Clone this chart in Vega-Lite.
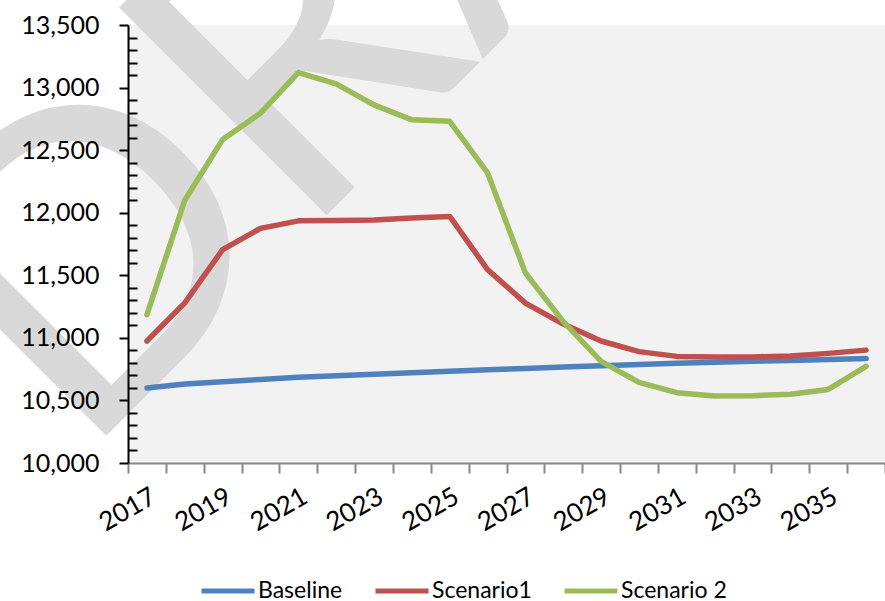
{
  "$schema": "https://vega.github.io/schema/vega-lite/v6.json",
  "width": 757,
  "height": 438,
  "autosize": {"type": "none"},
  "padding": {"left": 128, "top": 25, "right": 0, "bottom": 138},
  "background": "white",
  "config": {"view": {"fill": "#f2f2f2", "stroke": null}, "font": "Lato"},
  "data": {"values": [
    {"year": 2017, "series": "Baseline", "value": 10600}, {"year": 2018, "series": "Baseline", "value": 10632},
    {"year": 2019, "series": "Baseline", "value": 10650}, {"year": 2020, "series": "Baseline", "value": 10668},
    {"year": 2021, "series": "Baseline", "value": 10685}, {"year": 2022, "series": "Baseline", "value": 10698},
    {"year": 2023, "series": "Baseline", "value": 10710}, {"year": 2024, "series": "Baseline", "value": 10722},
    {"year": 2025, "series": "Baseline", "value": 10733}, {"year": 2026, "series": "Baseline", "value": 10745},
    {"year": 2027, "series": "Baseline", "value": 10756}, {"year": 2028, "series": "Baseline", "value": 10767},
    {"year": 2029, "series": "Baseline", "value": 10778}, {"year": 2030, "series": "Baseline", "value": 10788},
    {"year": 2031, "series": "Baseline", "value": 10797}, {"year": 2032, "series": "Baseline", "value": 10805},
    {"year": 2033, "series": "Baseline", "value": 10813}, {"year": 2034, "series": "Baseline", "value": 10820},
    {"year": 2035, "series": "Baseline", "value": 10828}, {"year": 2036, "series": "Baseline", "value": 10836},
    {"year": 2017, "series": "Scenario1", "value": 10975}, {"year": 2018, "series": "Scenario1", "value": 11280},
    {"year": 2019, "series": "Scenario1", "value": 11705}, {"year": 2020, "series": "Scenario1", "value": 11875},
    {"year": 2021, "series": "Scenario1", "value": 11935}, {"year": 2022, "series": "Scenario1", "value": 11938},
    {"year": 2023, "series": "Scenario1", "value": 11942}, {"year": 2024, "series": "Scenario1", "value": 11958},
    {"year": 2025, "series": "Scenario1", "value": 11970}, {"year": 2026, "series": "Scenario1", "value": 11545},
    {"year": 2027, "series": "Scenario1", "value": 11278}, {"year": 2028, "series": "Scenario1", "value": 11110},
    {"year": 2029, "series": "Scenario1", "value": 10975}, {"year": 2030, "series": "Scenario1", "value": 10890},
    {"year": 2031, "series": "Scenario1", "value": 10852}, {"year": 2032, "series": "Scenario1", "value": 10848},
    {"year": 2033, "series": "Scenario1", "value": 10848}, {"year": 2034, "series": "Scenario1", "value": 10855},
    {"year": 2035, "series": "Scenario1", "value": 10876}, {"year": 2036, "series": "Scenario1", "value": 10902},
    {"year": 2017, "series": "Scenario 2", "value": 11185}, {"year": 2018, "series": "Scenario 2", "value": 12100},
    {"year": 2019, "series": "Scenario 2", "value": 12585}, {"year": 2020, "series": "Scenario 2", "value": 12795},
    {"year": 2021, "series": "Scenario 2", "value": 13120}, {"year": 2022, "series": "Scenario 2", "value": 13030},
    {"year": 2023, "series": "Scenario 2", "value": 12862}, {"year": 2024, "series": "Scenario 2", "value": 12742},
    {"year": 2025, "series": "Scenario 2", "value": 12730}, {"year": 2026, "series": "Scenario 2", "value": 12318},
    {"year": 2027, "series": "Scenario 2", "value": 11518}, {"year": 2028, "series": "Scenario 2", "value": 11130},
    {"year": 2029, "series": "Scenario 2", "value": 10812}, {"year": 2030, "series": "Scenario 2", "value": 10645},
    {"year": 2031, "series": "Scenario 2", "value": 10562}, {"year": 2032, "series": "Scenario 2", "value": 10536},
    {"year": 2033, "series": "Scenario 2", "value": 10538}, {"year": 2034, "series": "Scenario 2", "value": 10550},
    {"year": 2035, "series": "Scenario 2", "value": 10588}, {"year": 2036, "series": "Scenario 2", "value": 10772}
  ]},
  "layer": [
    {
      "data": {"values": [{"t": "DRAFT"}]},
      "mark": {"type": "text", "font": "Lato", "fontWeight": "normal", "fontSize": 410, "angle": -45, "align": "left", "baseline": "alphabetic", "dx": -95, "fill": "#d9d9d9"},
      "encoding": {
        "text": {"field": "t"},
        "x": {
          "datum": 2017, "type": "ordinal",
          "scale": {"type": "band", "paddingInner": 0, "paddingOuter": 0},
          "axis": {
            "title": null, "labelAngle": -30, "labelAlign": "right", "labelBaseline": "top",
            "labelFontSize": 26, "labelColor": "black", "labelPadding": 10, "labelOverlap": false,
            "labelExpr": "datum.value % 2 == 1 ? datum.label : ''",
            "tickBand": "extent", "tickSize": 10, "tickColor": "#888888", "tickWidth": 2,
            "domainColor": "#888888", "domainWidth": 2, "zindex": 1
          }
        },
        "y": {
          "datum": 10543, "type": "quantitative",
          "scale": {"domain": [10000, 13500], "nice": false, "zero": false},
          "axis": {
            "title": null,
            "values": [10000, 10100, 10200, 10300, 10400, 10500, 10600, 10700, 10800, 10900, 11000, 11100, 11200, 11300, 11400, 11500, 11600, 11700, 11800, 11900, 12000, 12100, 12200, 12300, 12400, 12500, 12600, 12700, 12800, 12900, 13000, 13100, 13200, 13300, 13400, 13500],
            "labelExpr": "datum.value % 500 === 0 ? format(datum.value, ',') : ''",
            "labelFontSize": 25, "labelColor": "black", "labelPadding": 20, "labelOverlap": false,
            "tickSize": {"condition": {"test": "datum.value % 500 === 0", "value": 9}, "value": -9},
            "tickColor": "black", "tickWidth": 2, "domainColor": "black", "domainWidth": 2,
            "grid": false, "zindex": 1
          }
        }
      }
    },
    {
      "mark": {"type": "line", "strokeWidth": 5.5, "strokeCap": "round", "strokeJoin": "round"},
      "encoding": {
        "x": {
          "field": "year", "type": "ordinal", "bandPosition": 0.5,
          "scale": {"type": "band", "paddingInner": 0, "paddingOuter": 0},
          "axis": {
            "title": null, "labelAngle": -30, "labelAlign": "right", "labelBaseline": "top",
            "labelFontSize": 26, "labelColor": "black", "labelPadding": 10, "labelOverlap": false,
            "labelExpr": "datum.value % 2 == 1 ? datum.label : ''",
            "tickBand": "extent", "tickSize": 10, "tickColor": "#888888", "tickWidth": 2,
            "domainColor": "#888888", "domainWidth": 2, "zindex": 1
          }
        },
        "y": {
          "field": "value", "type": "quantitative",
          "scale": {"domain": [10000, 13500], "nice": false, "zero": false},
          "axis": {
            "title": null,
            "values": [10000, 10100, 10200, 10300, 10400, 10500, 10600, 10700, 10800, 10900, 11000, 11100, 11200, 11300, 11400, 11500, 11600, 11700, 11800, 11900, 12000, 12100, 12200, 12300, 12400, 12500, 12600, 12700, 12800, 12900, 13000, 13100, 13200, 13300, 13400, 13500],
            "labelExpr": "datum.value % 500 === 0 ? format(datum.value, ',') : ''",
            "labelFontSize": 25, "labelColor": "black", "labelPadding": 20, "labelOverlap": false,
            "tickSize": {"condition": {"test": "datum.value % 500 === 0", "value": 9}, "value": -9},
            "tickColor": "black", "tickWidth": 2, "domainColor": "black", "domainWidth": 2,
            "grid": false, "zindex": 1
          }
        },
        "color": {
          "field": "series", "type": "nominal",
          "scale": {"domain": ["Baseline", "Scenario1", "Scenario 2"], "range": ["#4F81BD", "#C0504D", "#9BBB59"]},
          "legend": {
            "title": null, "orient": "none", "legendX": 71, "legendY": 537, "direction": "horizontal",
            "symbolType": "stroke", "symbolSize": 2809, "symbolStrokeWidth": 5,
            "labelFontSize": 23, "labelColor": "black", "labelOffset": 1, "columnPadding": 22
          }
        }
      }
    }
  ]
}
